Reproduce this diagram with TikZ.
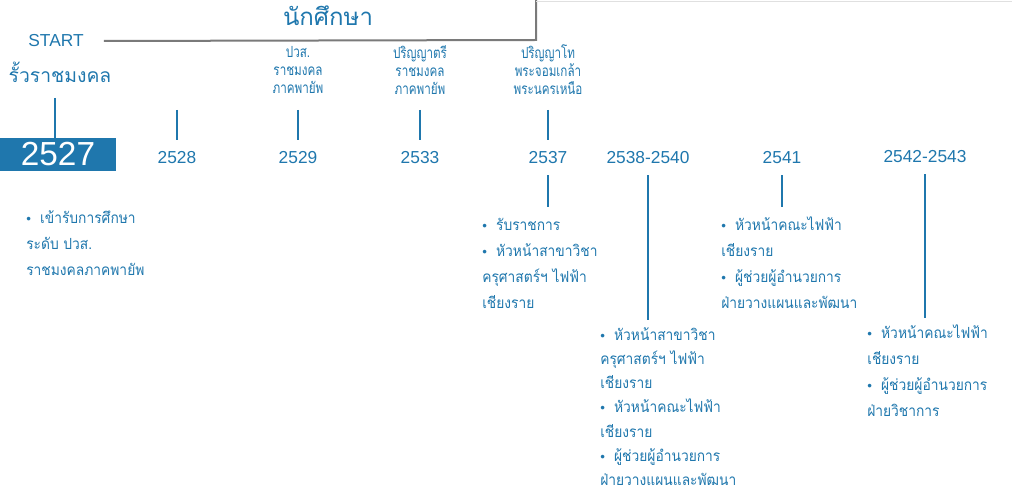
\documentclass[tikz,border=0pt]{standalone}
\usepackage{fontspec}
\setmainfont{Liberation Sans}
\newfontfamily\thaifont[Script=Thai]{Loma}
\newfontfamily\thaibody[Script=Thai, FakeStretch=0.9]{Loma}
\newfontfamily\thainarrow[Script=Thai, FakeStretch=0.76]{Loma}
\usepackage{tikz}
\usetikzlibrary{positioning}
\definecolor{tlblue}{HTML}{1F77AD}
\definecolor{tlgrey}{HTML}{7A7A7A}
\newcommand{\bul}{{\fontspec{Liberation Sans}\fontsize{10}{10}\selectfont\textbullet}\hspace{0.6em}}

\begin{document}
\begin{tikzpicture}[x=0.75pt, y=-0.75pt,
  year/.style={text=tlblue, font=\fontsize{13}{15}\selectfont, inner sep=0pt},
  deg/.style={text=tlblue, font=\thainarrow\fontsize{11.5}{13.5}\selectfont,
    align=center, inner sep=0pt},
  info/.style={text=tlblue, font=\thaibody\fontsize{11.5}{19.5}\selectfont,
    align=left, inner sep=0pt, anchor=north west},
  tick/.style={draw=tlblue, line width=1.6pt}]
\useasboundingbox (0,0) rectangle (1012,495);
% heading
\node[text=tlblue, font=\thaifont\fontsize{18}{20}\selectfont, inner sep=0pt] (title) at (328,16) {นักศึกษา};
\node[text=tlblue, font=\fontsize{13}{15}\selectfont, inner sep=0pt] (start) at (56,41) {START};
\node[text=tlblue, font=\thaifont\fontsize{14.5}{18}\selectfont, inner sep=0pt] (fence) at (60,72) {รั้วราชมงคล};
\coordinate (corner) at (536,40);
\draw[tlgrey, line width=1.5pt] ([xshift=15pt]start.east) -- (corner) -- (corner |- 0,0);
\draw[black!12, line width=0.6pt] (corner |- 0,1) -- (1012,1);
% years
\node[fill=tlblue, text=white, font=\fontsize{25}{28}\selectfont, inner sep=0pt,
  minimum width=87pt, minimum height=25pt] (y2527) at (58,154.5) {2527};
\node[year] (y2528) at (177,158) {2528};
\node[year] (y2529) at (298,158) {2529};
\node[year] (y2533) at (420,158) {2533};
\node[year] (y2537) at (548,158) {2537};
\node[year] (y2538) at (648,158) {2538-2540};
\node[year] (y2541) at (782,158) {2541};
\node[year] (y2542) at (925,157) {2542-2543};
% degrees above
\node[deg] (d2529) at (298,70) {ปวส.\\ราชมงคล\\ภาคพายัพ};
\node[deg] (d2533) at (420,70) {ปริญญาตรี\\ราชมงคล\\ภาคพายัพ};
\node[deg] (d2537) at (548,70) {ปริญญาโท\\พระจอมเกล้า\\พระนครเหนือ};
\coordinate (t2528) at (177,110);
% details below
\node[info] (i2527) at (26,210) {\bul เข้ารับการศึกษา\\ระดับ ปวส.\\ราชมงคลภาคพายัพ};
\node[info] (i2537) at (482,218) {\bul รับราชการ\\\bul หัวหน้าสาขาวิชา\\ครุศาสตร์ฯ ไฟฟ้า\\เชียงราย};
\node[info, font=\thaibody\fontsize{11.5}{18.2}\selectfont] (i2538) at (600,327)
  {\bul หัวหน้าสาขาวิชา\\ครุศาสตร์ฯ ไฟฟ้า\\เชียงราย\\\bul หัวหน้าคณะไฟฟ้า\\เชียงราย\\\bul ผู้ช่วยผู้อำนวยการ\\ฝ่ายวางแผนและพัฒนา};
\node[info] (i2541) at (721,216) {\bul หัวหน้าคณะไฟฟ้า\\เชียงราย\\\bul ผู้ช่วยผู้อำนวยการ\\ฝ่ายวางแผนและพัฒนา};
\node[info] (i2542) at (867,324) {\bul หัวหน้าคณะไฟฟ้า\\เชียงราย\\\bul ผู้ช่วยผู้อำนวยการ\\ฝ่ายวิชาการ};
% ticks
\coordinate (t2527) at (55,98);
\draw[tick] (t2527) -- (t2527 |- y2527.north);
\draw[tick] (t2528) -- ([yshift=9pt]y2528.north);
\draw[tick] (d2529.south |- t2528) -- ([yshift=9pt]y2529.north);
\draw[tick] (d2533.south |- t2528) -- ([yshift=9pt]y2533.north);
\draw[tick] (d2537.south |- t2528) -- ([yshift=9pt]y2537.north);
\draw[tick] ([yshift=-8pt]y2537.south) -- (y2537.south |- 0,207);
\draw[tick] ([yshift=-8pt]y2538.south) -- (y2538.south |- 0,320);
\draw[tick] ([yshift=-8pt]y2541.south) -- (y2541.south |- 0,207);
\draw[tick] ([yshift=-8pt]y2542.south) -- (y2542.south |- 0,318);
\end{tikzpicture}
\end{document}
